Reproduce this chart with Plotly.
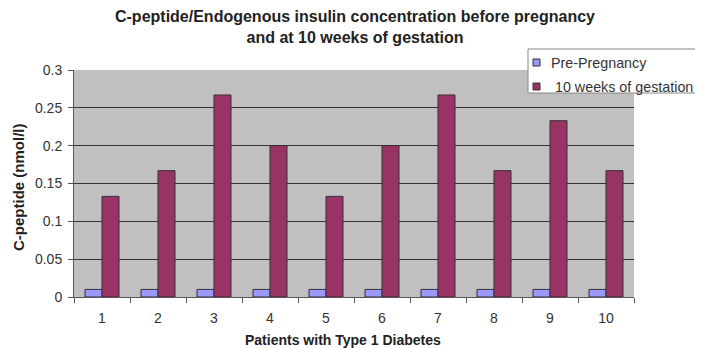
import plotly.graph_objects as go

patients = ["1", "2", "3", "4", "5", "6", "7", "8", "9", "10"]
pre_pregnancy = [0.01, 0.01, 0.01, 0.01, 0.01, 0.01, 0.01, 0.01, 0.01, 0.01]
weeks10 = [0.133, 0.167, 0.267, 0.2, 0.133, 0.2, 0.267, 0.167, 0.233, 0.167]
series_names = ["Pre-Pregnancy", "10 weeks of gestation"]
series_colors = ["#9999FF", "#993366"]

font = "Liberation Sans, Arial, sans-serif"

# figure geometry (figure pixels)
W, H = 703, 348
L, R, T, B = 66, 77, 62, 59
PW, PH = W - L - R, H - T - B


def px(x):
    return (x - L) / PW


def py(y):
    return (H - B - y) / PH


fig = go.Figure()
for name, vals, col in zip(series_names, [pre_pregnancy, weeks10], series_colors):
    fig.add_bar(x=patients, y=vals, name=name,
                marker=dict(color=col, line=dict(color="#333333", width=1)))

shapes = [
    dict(type="rect", xref="paper", yref="paper", x0=px(520), x1=px(710), y0=py(85), y1=py(41),
         fillcolor="white", line=dict(color="#888888", width=1), layer="above"),
]
annotations = []
legend_rows = [(51, 541, "Pre-Pregnancy"), (75, 545, "10 weeks of gestation")]
for (top, tx, name), col in zip(legend_rows, series_colors):
    shapes.append(dict(type="rect", xref="paper", yref="paper", x0=px(525), x1=px(532),
                       y0=py(top + 7), y1=py(top), fillcolor=col,
                       line=dict(color="#333333", width=1), layer="above"))
    annotations.append(dict(text=name, xref="paper", yref="paper", x=px(tx), y=py(top + 4),
                            xanchor="left", yanchor="middle", showarrow=False,
                            font=dict(size=14.3, color="#333333")))

annotations.append(dict(text="<b>C-peptide (nmol/l)</b>", xref="paper", yref="paper",
                        x=px(10), y=py(179), textangle=-90, showarrow=False,
                        xanchor="center", yanchor="middle", font=dict(size=15, color="#222222")))
annotations.append(dict(text="<b>Patients with Type 1 Diabetes</b>", xref="paper", yref="paper",
                        x=px(335), y=py(332), showarrow=False,
                        xanchor="center", yanchor="middle", font=dict(size=14, color="#222222")))

fig.update_layout(
    width=W, height=H,
    margin=dict(l=L, r=R, t=T, b=B, autoexpand=False),
    barmode="group", bargap=0.393, bargroupgap=0,
    plot_bgcolor="#C0C0C0", paper_bgcolor="white",
    font=dict(family=font, size=13, color="#333333"),
    title=dict(text="<b>C-peptide/Endogenous insulin concentration before pregnancy<br>and at 10 weeks of gestation</b>",
               x=347 / W, xanchor="center", y=0.96, yanchor="top", yref="container",
               font=dict(size=16, color="#222222")),
    showlegend=False,
    shapes=shapes,
    annotations=annotations,
)
fig.update_xaxes(
    automargin=False,
    showline=True, linecolor="#555555", ticks="outside", tickson="boundaries", ticklen=5,
    tickcolor="#555555", showgrid=False, tickfont=dict(size=14), ticklabelstandoff=8,
)
fig.update_yaxes(
    automargin=False,
    range=[0, 0.3], dtick=0.05, showline=True, linecolor="#555555",
    ticks="outside", ticklen=5, tickcolor="#555555", ticklabelstandoff=3,
    showgrid=True, gridcolor="#333333", gridwidth=1, zeroline=False, tickfont=dict(size=14),
)
fig.write_html("out.html")
